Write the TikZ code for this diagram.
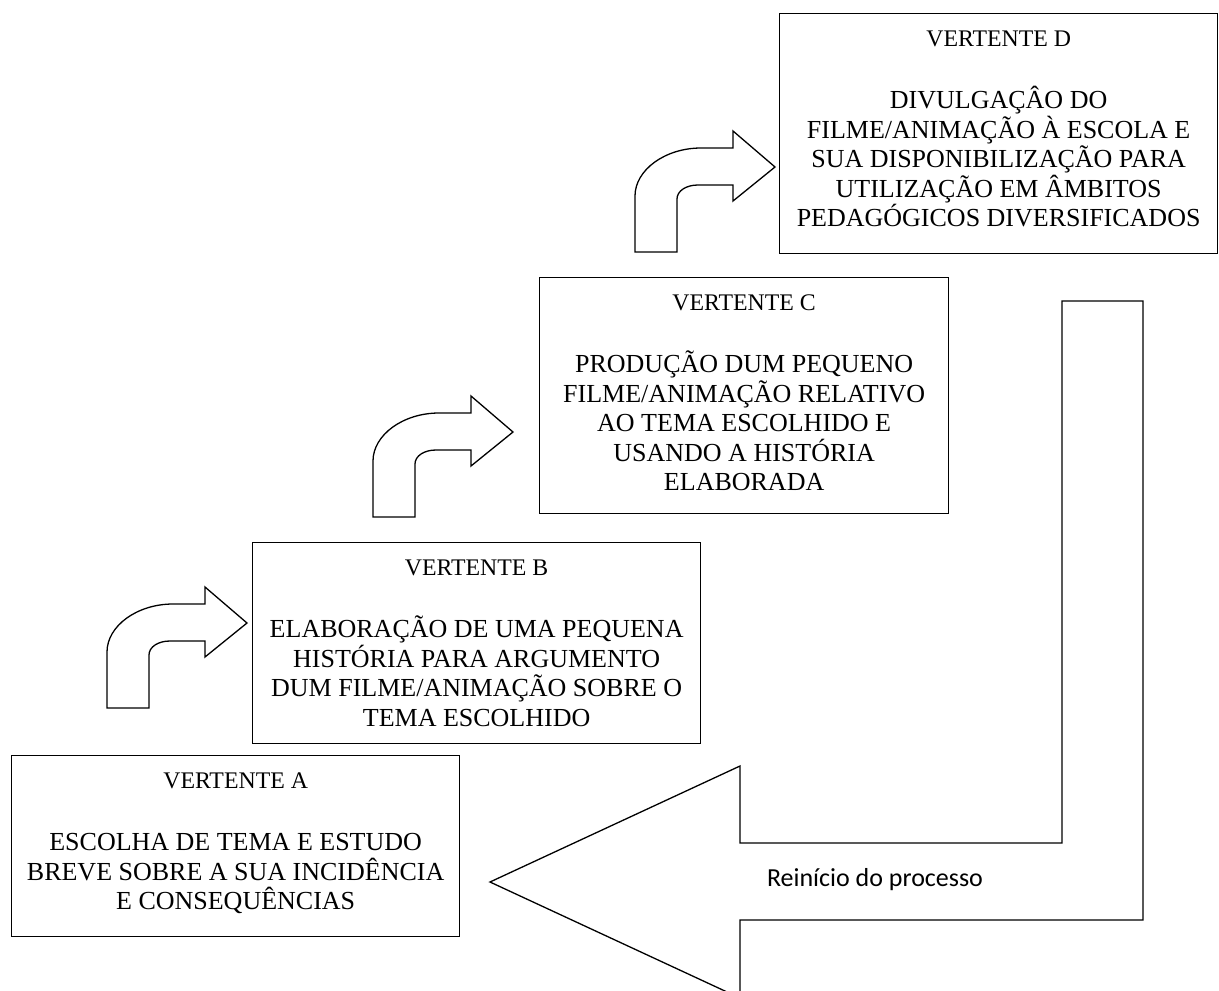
\documentclass[tikz,border=0pt]{standalone}
\usepackage{fontspec}
\setmainfont{Liberation Serif}
\newfontfamily\calfont{Carlito}
\usetikzlibrary{calc}
\begin{document}
\begin{tikzpicture}[x=1pt,y=-1pt,line join=miter,
  vbox/.style={draw,line width=1.3pt,rectangle,anchor=north west,inner sep=0pt},
  ttl/.style={anchor=base,inner sep=0pt,font=\fontsize{23.8}{27.4}\selectfont},
  bdy/.style={anchor=north,inner sep=0pt,align=center,font=\fontsize{26}{29.5}\selectfont},
  bent/.style={draw,line width=1.3pt,fill=white},
  bentarrow/.pic={\draw[bent] (-140,85) -- (-140,29) .. controls (-140,3) and (-110,-19) .. (-74,-19) -- (-42,-19) -- (-42,-36) -- (0,0) -- (-42,34) -- (-42,18) -- (-77,18) .. controls (-89,18) and (-98,24) .. (-98,32) -- (-98,85) -- cycle;}]
\useasboundingbox (0,0) rectangle (1219,991);
\clip (0,0) rectangle (1219,991);

% boxes
\node[vbox,minimum width=448pt,minimum height=181pt] (boxA) at (11,755) {};
\node[vbox,minimum width=448pt,minimum height=201pt] (boxB) at (252,542) {};
\node[vbox,minimum width=409pt,minimum height=236pt] (boxC) at (539,277) {};
\node[vbox,minimum width=438pt,minimum height=240pt] (boxD) at (779,13) {};

% titles
\node[ttl] (tA) at ($(boxA.north)+(0,33)$) {VERTENTE A};
\node[ttl] (tB) at ($(boxB.north)+(0,33)$) {VERTENTE B};
\node[ttl] (tC) at ($(boxC.north)+(0,33)$) {VERTENTE C};
\node[ttl] (tD) at ($(boxD.north)+(0,33)$) {VERTENTE D};

% bodies
\node[bdy] (bA) at ($(boxA.north)+(0,70.6)$) {\rule{0pt}{25pt}ESCOLHA DE TEMA E ESTUDO\\BREVE SOBRE A SUA INCIDÊNCIA\\E CONSEQUÊNCIAS};
\node[bdy] (bB) at ($(boxB.north)+(0,70.6)$) {\rule{0pt}{25pt}ELABORAÇÃO DE UMA PEQUENA\\HISTÓRIA PARA ARGUMENTO\\DUM FILME/ANIMAÇÃO SOBRE O\\TEMA ESCOLHIDO};
\node[bdy] (bC) at ($(boxC.north)+(0,70.6)$) {\rule{0pt}{25pt}PRODUÇÃO DUM PEQUENO\\FILME/ANIMAÇÃO RELATIVO\\AO TEMA ESCOLHIDO E\\USANDO A HISTÓRIA\\ELABORADA};
\node[bdy] (bD) at ($(boxD.north)+(0,70.6)$) {\rule{0pt}{25pt}DIVULGAÇÂO DO\\FILME/ANIMAÇÃO À ESCOLA E\\SUA DISPONIBILIZAÇÃO PARA\\UTILIZAÇÃO EM ÂMBITOS\\PEDAGÓGICOS DIVERSIFICADOS};

% bent arrows
\pic at ($(boxB.north west)+(-5,81)$) {bentarrow};
\pic at ($(boxC.north west)+(-26,155)$) {bentarrow};
\pic at ($(boxD.north west)+(-4,154)$) {bentarrow};

% big return arrow
\draw[bent] (490,882) -- (740,766) -- (740,843) -- (1062,843) -- (1062,301) -- (1143,301) -- (1143,920) -- (740,920) -- (740,998) -- cycle;
\node[font=\calfont\fontsize{26}{30}\selectfont] (lbl) at (875,880) {Reinício do processo};
\end{tikzpicture}
\end{document}
